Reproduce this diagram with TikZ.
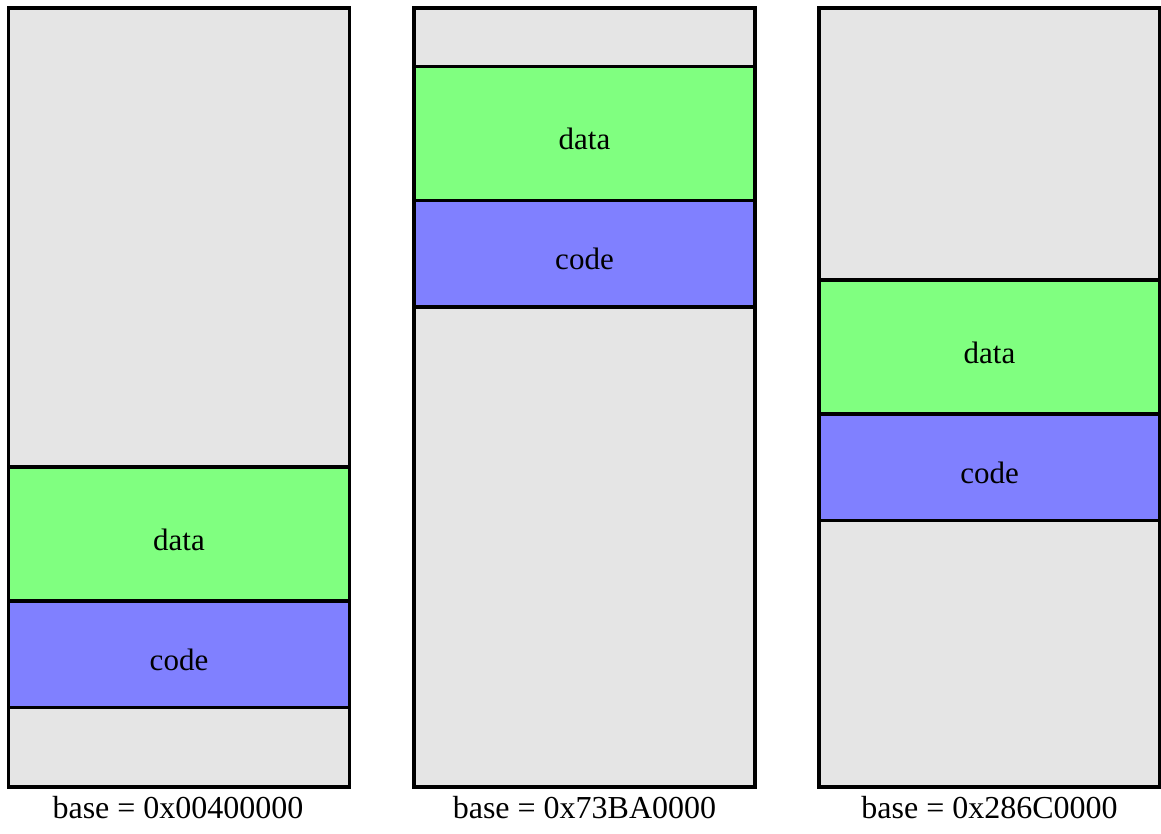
\documentclass[tikz,border=0pt]{standalone}
\usepackage{fontspec}
\setmainfont{Liberation Serif}
\begin{document}
\begin{tikzpicture}[x=1pt,y=-1pt,
  frame/.style={draw=black, line width=3.5pt, fill=memgray, minimum width=341pt, inner sep=0pt},
  seg/.style={draw=black, line width=3.5pt, minimum width=341pt, inner sep=0pt,
    font=\fontsize{31}{36}\selectfont, text height=32pt, text depth=0pt},
  datastyle/.style={seg, fill=datagreen, minimum height=134pt},
  codestyle/.style={seg, fill=codeblue, minimum height=106.5pt},
  basestyle/.style={anchor=base, inner sep=0pt, font=\fontsize{32}{36}\selectfont}]
\definecolor{memgray}{HTML}{E5E5E5}
\definecolor{datagreen}{HTML}{80FF80}
\definecolor{codeblue}{HTML}{8080FF}
\useasboundingbox (0,0) rectangle (1161,833);
% image 1: low base
\node[frame, minimum height=779pt] (f1) at (179,397.5) {};
\node[datastyle] (d1) at (179,534) {data};
\node[codestyle] (c1) at (179,654) {code};
\node[basestyle] (b1) at (178,818) {base = 0x00400000};
% image 2: high base
\node[frame, minimum height=779pt] (f2) at (584.5,397.5) {};
\node[datastyle] (d2) at (584.5,133.5) {data};
\node[codestyle] (c2) at (584.5,253.5) {code};
\node[basestyle] (b2) at (584.5,818) {base = 0x73BA0000};
% image 3: middle base
\node[frame, minimum height=779pt] (f3) at (989.5,397.5) {};
\node[datastyle] (d3) at (989.5,347) {data};
\node[codestyle] (c3) at (989.5,467) {code};
\node[basestyle] (b3) at (989.5,818) {base = 0x286C0000};
\end{tikzpicture}
\end{document}
